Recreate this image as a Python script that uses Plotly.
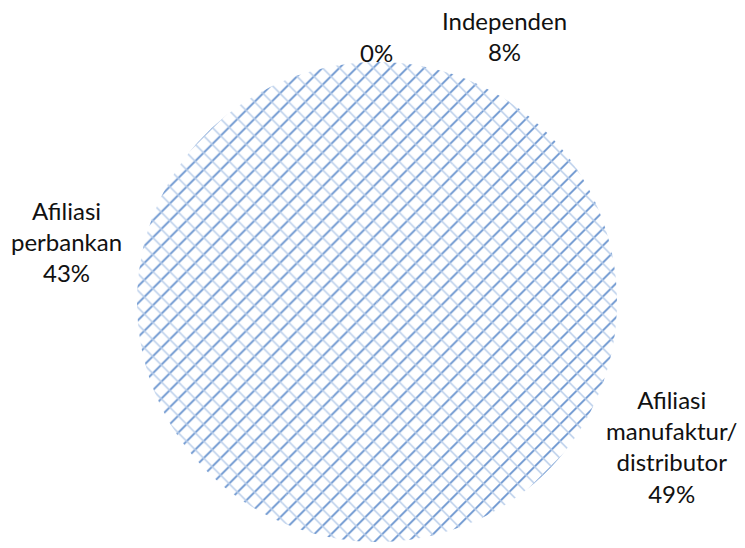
import math
import plotly.graph_objects as go

# Share of outlets by affiliation (clockwise from 12 o'clock)
categories = ["Independen", "Afiliasi manufaktur/distributor", "Afiliasi perbankan", "Lainnya"]
label_names = ["Independen", "Afiliasi<br>manufaktur/<br>distributor", "Afiliasi<br>perbankan", ""]
values = [8, 49, 43, 0]

W, H = 745, 548
CX, CY, R = 377, 302, 240  # pie centre and radius in px

# label nudges (px) from the slice's outer edge at its mid-angle
label_nudge = [(68, -34), (81, 36), (-76, -8), (0, -9)]

domain_x = [(CX - R) / W, (CX + R) / W]
domain_y = [1 - (CY + R) / H, 1 - (CY - R) / H]

pie_common = dict(
    labels=categories,
    values=values,
    sort=False,
    direction="clockwise",
    rotation=0,
    showlegend=False,
    textinfo="none",
    domain=dict(x=domain_x, y=domain_y),
)

fig = go.Figure()
# base layer: long diagonal strokes of the brick hatch
fig.add_trace(go.Pie(
    **pie_common,
    marker=dict(
        colors=["white"] * len(values),
        line=dict(width=0),
        pattern=dict(shape="/", fgcolor="#6692CE", bgcolor="white", size=12, solidity=0.15),
    ),
    hoverinfo="label+percent",
))
# overlay: the short cross strokes
fig.add_trace(go.Pie(
    **pie_common,
    marker=dict(
        colors=["rgba(0,0,0,0)"] * len(values),
        line=dict(width=0),
        pattern=dict(shape="\\", fgcolor="#B8CDEA", bgcolor="rgba(0,0,0,0)", size=12, solidity=0.13),
    ),
    hoverinfo="skip",
))

# outside labels placed from each slice's mid-angle
total = sum(values)
start = 0.0
for name, v, (dx, dy) in zip(label_names, values, label_nudge):
    mid = math.radians((start + v / 2) / total * 360)
    start += v
    ex = CX + R * math.sin(mid)
    ey = CY - R * math.cos(mid)
    pct = f"{round(v / total * 100)}%"
    txt = f"{name}<br>{pct}" if name else pct
    fig.add_annotation(
        x=(ex + dx) / W, y=1 - (ey + dy) / H,
        xref="paper", yref="paper",
        text=txt, showarrow=False,
        xanchor="center", yanchor="middle", align="center",
        font=dict(family="Lato", size=24, color="#111111"),
    )

fig.update_layout(
    width=W,
    height=H,
    margin=dict(l=0, r=0, t=0, b=0),
    paper_bgcolor="white",
    plot_bgcolor="white",
)

fig.write_html("out.html")
